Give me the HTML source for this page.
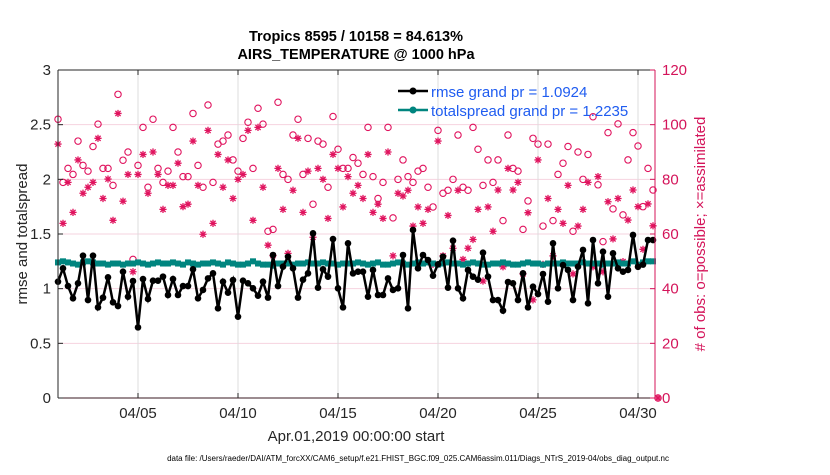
<!DOCTYPE html>
<html><head><meta charset="utf-8"><style>
body{margin:0;background:#fff;width:830px;height:470px;overflow:hidden;font-family:"Liberation Sans",sans-serif}
svg text{font-family:"Liberation Sans",sans-serif}
</style></head><body>
<svg id="chart" width="830" height="470" xmlns="http://www.w3.org/2000/svg">
<g id="grid"></g>
<g id="marks"></g>
<g id="axes"></g>
<text x="356" y="41" text-anchor="middle" font-size="14.5" font-weight="bold" fill="#000">Tropics 8595 / 10158 = 84.613%</text>
<text x="356" y="59" text-anchor="middle" font-size="14.5" font-weight="bold" fill="#000">AIRS_TEMPERATURE @ 1000 hPa</text>
<text transform="translate(27,234) rotate(-90)" text-anchor="middle" font-size="15" fill="#262626">rmse and totalspread</text>
<text transform="translate(705,234) rotate(-90)" text-anchor="middle" font-size="15" fill="#d4145a"># of obs: o=possible; ×=assimilated</text>
<text x="356" y="441" text-anchor="middle" font-size="15" fill="#262626">Apr.01,2019 00:00:00 start</text>
<text x="418" y="461" text-anchor="middle" font-size="8" fill="#000">data file: /Users/raeder/DAI/ATM_forcXX/CAM6_setup/f.e21.FHIST_BGC.f09_025.CAM6assim.011/Diags_NTrS_2019-04/obs_diag_output.nc</text>
<g>
<line x1="398" y1="91" x2="428" y2="91" stroke="#000" stroke-width="2.5"/>
<circle cx="413" cy="91" r="3.5" fill="#000"/>
<text x="431" y="97" font-size="15" fill="#1f5cf0">rmse grand pr = 1.0924</text>
<line x1="398" y1="110" x2="428" y2="110" stroke="#00857f" stroke-width="2.5"/>
<circle cx="413" cy="110" r="3.5" fill="#00857f"/>
<text x="431" y="116" font-size="15" fill="#1f5cf0">totalspread grand pr = 1.2235</text>
</g>
</svg>
<script>
const tickDays=[4,9,14,19,24,29];
const tickLabels=["04/05","04/10","04/15","04/20","04/25","04/30"];
const leftTicks=[0,0.5,1,1.5,2,2.5,3];
const rightTicks=[0,20,40,60,80,100,120];
const rmse=[1.064,1.186,1.024,0.912,1.049,1.302,0.896,1.302,0.829,0.918,1.104,0.875,0.841,1.155,0.927,1.070,0.646,1.088,0.906,1.073,1.073,1.110,0.942,1.088,0.942,1.024,1.024,1.177,0.912,0.988,
1.094,1.140,0.820,1.064,0.963,1.079,0.744,1.073,1.049,1.003,0.936,1.064,0.918,1.308,1.024,1.201,1.293,1.186,0.918,1.082,1.140,1.506,1.009,1.177,1.110,1.454,1.003,0.829,1.415,
1.140,1.155,1.155,0.927,1.171,0.942,0.942,1.094,0.988,1.003,1.308,0.820,1.537,1.186,1.308,1.262,1.119,1.223,1.293,1.009,1.439,1.003,0.912,1.171,1.110,1.082,1.329,1.110,0.896,
0.896,0.799,1.061,1.049,0.896,1.140,0.829,1.018,0.951,1.134,0.881,1.415,1.003,1.216,1.171,0.896,1.201,1.354,0.866,1.445,1.049,1.338,0.927,1.323,1.186,1.155,1.171,1.491,1.20,1.22,1.445,1.445];
const spread=[1.24,1.25,1.24,1.23,1.22,1.24,1.25,1.24,1.23,1.23,1.22,1.23,1.23,1.22,1.23,1.23,1.24,1.23,1.22,1.23,1.24,1.23,1.23,1.24,1.23,1.22,1.24,1.23,1.22,1.23,
1.23,1.24,1.23,1.22,1.24,1.23,1.22,1.22,1.23,1.25,1.23,1.22,1.22,1.21,1.23,1.23,1.23,1.22,1.23,1.23,1.24,1.23,1.23,1.24,1.23,1.23,1.22,1.23,1.23,
1.23,1.24,1.23,1.22,1.23,1.24,1.22,1.22,1.23,1.24,1.23,1.22,1.23,1.24,1.23,1.24,1.23,1.22,1.23,1.24,1.23,1.23,1.22,1.23,1.24,1.23,1.22,1.22,1.23,
1.23,1.24,1.23,1.22,1.22,1.23,1.24,1.23,1.23,1.22,1.23,1.23,1.23,1.24,1.23,1.23,1.23,1.24,1.23,1.23,1.23,1.22,1.23,1.23,1.24,1.23,1.23,1.25,1.22,1.24,1.25,1.25];
const possible=[102,78.9,84,81.8,94,85.1,83,92,100.2,84,84,77.8,111.1,87,90,50.7,85.1,99,77.1,102,84,78.9,83,99,90,81,81,104.1,85.1,77.1,
107.2,78.9,92.9,94,96.2,87.1,83,95,100.9,84,106,100.2,61,61.7,108.2,81.8,80,96.2,102,81.8,95,70.9,94,92.9,77.1,103,91,84,84,
88,85.9,81.8,99,81,73,78.9,99,65.9,80,87.1,81,78.9,83,84,77.1,69.9,97.9,74.9,76,80,96.2,77.1,76,99,91,77.8,87.1,78.9,
87.1,64.9,96.2,84,83,61.7,72.1,95,92.9,62.9,92.9,64.9,81.8,85.9,92,61,90,80,89.1,102.9,78,57.2,97.1,69.2,100.3,67,87.1,97.1,92.2,70,84,76.1,0];
const assimilated=[92.9,63.9,78.9,67.9,87.1,74.9,77.1,78.9,95,73,80.1,65,104.1,72,81.8,46.2,81.8,89.1,74.9,90,81.8,69,77.8,77.8,85.9,70,70.9,94,77.8,59.9,
97.9,63.9,89.1,77.1,87.1,73,80,81.8,97.9,65,99,77.1,55.9,52.1,84,69,52.9,76,95,67.9,83,58.8,84,80,65.7,89.1,84,69.9,81,
74.9,77.8,73,89.1,67.9,70.9,65.7,90,52,74.9,73.9,76,62.9,69.9,63.9,69,48.9,94,52,66.8,54.8,76,50.7,54.8,58,69,42.8,69.9,61,
76.1,48,84,76.1,78.9,45.4,67.8,35.9,87.1,48.9,73,52,69,63.9,77.8,45.4,62.9,69,78.9,48,81,46.2,71.8,58.2,73,49.9,65.1,76.1,70,54.4,71,63,0];
const stepDays=0.25;
const L=58,R=655,T=70,B=398,XMAX=29.85;
const X=d=>L+(d/XMAX)*(R-L);
const YL=v=>B-(v/3)*(B-T);
const YR=v=>B-(v/120)*(B-T);
const NS="http://www.w3.org/2000/svg";
function mk(tag,attrs,parent){const e=document.createElementNS(NS,tag);for(const k in attrs)e.setAttribute(k,attrs[k]);parent.appendChild(e);return e;}
const grid=document.getElementById('grid'),marks=document.getElementById('marks'),axes=document.getElementById('axes');
mk('rect',{x:L,y:T,width:R-L,height:B-T,fill:'#fff'},grid);
leftTicks.forEach(v=>{if(v>0&&v<3){const g=mk('line',{x1:L,x2:R,y1:YL(v),y2:YL(v),stroke:'#f6d3df','stroke-width':1},grid);

}});
tickDays.forEach(d=>{const g=mk('line',{x1:X(d),x2:X(d),y1:T,y2:B,stroke:'#dcdcdc','stroke-width':1},grid);

});
possible.forEach((v,i)=>{const c=mk('circle',{cx:X(i*stepDays),cy:YR(v),r:3.2,fill:'none',stroke:'#e0135e','stroke-width':1.1},marks);

});
assimilated.forEach((v,i)=>{const x=X(i*stepDays),y=YR(v),s=3.6,d=2.6;
const p=mk('path',{d:`M${x-s},${y}H${x+s}M${x-d},${y-d}L${x+d},${y+d}M${x-d},${y+d}L${x+d},${y-d}M${x},${y-s}V${y+s}`,stroke:'#e0135e','stroke-width':1.3,fill:'none'},marks);

});
let sp=spread.map((v,i)=>X(i*stepDays)+','+YL(v)).join(' ');
const sl=mk('polyline',{points:sp,fill:'none',stroke:'#00857f','stroke-width':2.5},marks);


spread.forEach((v,i)=>{const c=mk('rect',{x:X(i*stepDays)-3,y:YL(v)-3,width:6,height:6,fill:'#00857f'},marks);

});
let rp=rmse.map((v,i)=>X(i*stepDays)+','+YL(v)).join(' ');
const rl=mk('polyline',{points:rp,fill:'none',stroke:'#000','stroke-width':2.5},marks);


rmse.forEach((v,i)=>{const c=mk('circle',{cx:X(i*stepDays),cy:YL(v),r:3.3,fill:'#000'},marks);

});
mk('line',{x1:L,x2:L,y1:T,y2:B,stroke:'#262626','stroke-width':1},axes);
mk('line',{x1:L,x2:R,y1:T,y2:T,stroke:'#262626','stroke-width':1},axes);
mk('line',{x1:L,x2:R,y1:B,y2:B,stroke:'#3a1a22','stroke-width':1},axes);
mk('line',{x1:R,x2:R,y1:T,y2:B,stroke:'#d4145a','stroke-width':1},axes);
leftTicks.forEach(v=>{mk('line',{x1:L,x2:L+5,y1:YL(v),y2:YL(v),stroke:'#262626'},axes);
const t=mk('text',{x:L-7,y:YL(v)+5,'text-anchor':'end','font-size':15,fill:'#262626'},axes);t.textContent=String(v);

});
rightTicks.forEach(v=>{mk('line',{x1:R-5,x2:R,y1:YR(v),y2:YR(v),stroke:'#d4145a'},axes);
const t=mk('text',{x:R+7,y:YR(v)+5,'text-anchor':'start','font-size':15,fill:'#d4145a'},axes);t.textContent=String(v);

});
tickDays.forEach((d,i)=>{mk('line',{x1:X(d),x2:X(d),y1:B-5,y2:B,stroke:'#262626'},axes);mk('line',{x1:X(d),x2:X(d),y1:T,y2:T+5,stroke:'#262626'},axes);
const t=mk('text',{x:X(d),y:B+20,'text-anchor':'middle','font-size':15,fill:'#262626'},axes);t.textContent=tickLabels[i];

});
</script>
</body></html>
